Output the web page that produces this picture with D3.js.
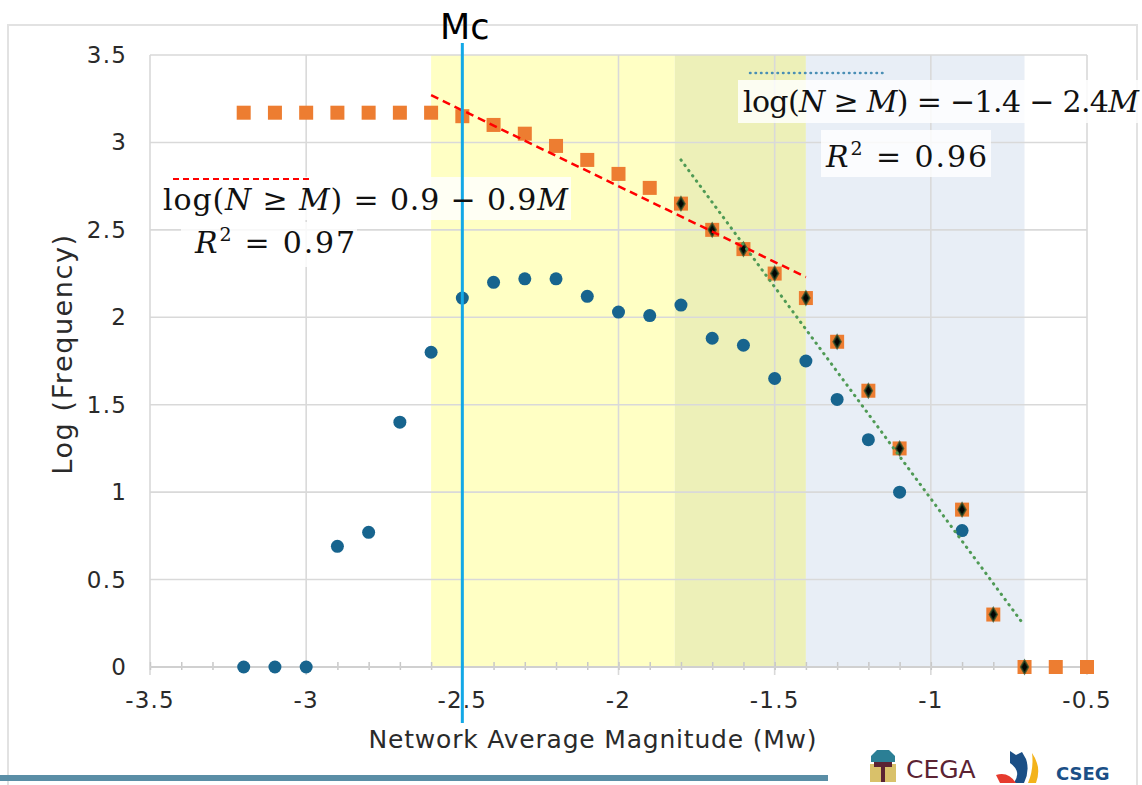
<!DOCTYPE html>
<html>
<head>
<meta charset="utf-8">
<script src="https://cdnjs.cloudflare.com/ajax/libs/d3/7.8.5/d3.min.js"></script>
<style>
  body { margin: 0; background: #fff; }
  svg { display: block; }
</style>
</head>
<body>
<div id="chart"></div>
<script>
// ---------------- data ----------------
const magnitudes = [-3.2, -3.1, -3.0, -2.9, -2.8, -2.7, -2.6, -2.5, -2.4, -2.3, -2.2, -2.1, -2.0, -1.9,
                    -1.8, -1.7, -1.6, -1.5, -1.4, -1.3, -1.2, -1.1, -1.0, -0.9, -0.8, -0.7, -0.6, -0.5];
// log of events per bin (blue dots)
const logFrequency = [0, 0, 0, 0.69, 0.77, 1.40, 1.80, 2.11, 2.20, 2.22, 2.22, 2.12, 2.03, 2.01,
                      2.07, 1.88, 1.84, 1.65, 1.75, 1.53, 1.30, 1.00, null, 0.78, null, null, null, null];
// log of cumulative count N >= M (orange squares)
const logCumulative = [3.17, 3.17, 3.17, 3.17, 3.17, 3.17, 3.17, 3.15, 3.10, 3.05, 2.98, 2.90, 2.82, 2.74,
                       2.65, 2.50, 2.39, 2.25, 2.11, 1.86, 1.58, 1.25, null, 0.90, 0.30, 0, 0, 0];
// squares used in the steep fit (black centre)
const fitPoints = [-1.8, -1.7, -1.6, -1.5, -1.4, -1.3, -1.2, -1.1, -0.9, -0.8, -0.7];

const redFitX = [-2.6, -1.4], redFitY = [3.27, 2.23];
const greenFitX = [-1.8, -0.71], greenFitY = [2.90, 0.26];

const bandFrom = [-2.6, -1.82, -1.4];
const bandTo = [-1.82, -1.4, -0.7];
const bandColor = ['#ffffc4', '#edf0b8', '#e8eef6'];

const mc = -2.5;
const xTicks = [-3.5, -3, -2.5, -2, -1.5, -1, -0.5];
const yTicks = [0, 0.5, 1, 1.5, 2, 2.5, 3, 3.5];

// ---------------- setup ----------------
const W = 1142, H = 785;
const svg = d3.select('#chart').append('svg')
    .attr('width', W).attr('height', H)
    .style('font-family', 'DejaVu Sans, sans-serif');

svg.append('rect').attr('width', W).attr('height', H).attr('fill', '#fff');

// outer chart frame
svg.append('rect')
    .attr('x', 8).attr('y', 25).attr('width', 1129).attr('height', 820)
    .attr('fill', 'none').attr('stroke', '#e2e2e2').attr('stroke-width', 2);

const x = d3.scaleLinear().domain([-3.5, -0.5]).range([150, 1087]);
const y = d3.scaleLinear().domain([0, 3.5]).range([667, 55]);

// bands
svg.append('g').selectAll('rect').data(bandFrom).join('rect')
    .attr('x', d => x(d))
    .attr('width', (d, i) => x(bandTo[i]) - x(d))
    .attr('y', y(3.5)).attr('height', y(0) - y(3.5))
    .attr('fill', (d, i) => bandColor[i]);

// grid
const grid = svg.append('g').attr('stroke', '#d9d9d9').attr('stroke-width', 1.6);
grid.selectAll('.h').data(yTicks).join('line')
    .attr('x1', x(-3.5)).attr('x2', x(-0.5))
    .attr('y1', d => y(d)).attr('y2', d => y(d));
grid.selectAll('.v').data(xTicks).join('line')
    .attr('x1', d => x(d)).attr('x2', d => x(d))
    .attr('y1', y(3.5)).attr('y2', y(0) + 8);

// x axis with minor ticks
const xAxis = d3.axisBottom(x).tickValues(d3.range(-3.5, -0.49, 0.1)).tickSize(8).tickFormat('');
const gx = svg.append('g').attr('transform', `translate(0,${y(0) - 5})`).call(xAxis);
gx.select('.domain').remove();
gx.selectAll('line').attr('stroke', '#c8c8c8').attr('stroke-width', 1.5);
svg.append('line').attr('x1', x(-3.5)).attr('x2', x(-0.5))
    .attr('y1', y(0)).attr('y2', y(0)).attr('stroke', '#d0d0d0').attr('stroke-width', 2);

// tick labels
svg.append('g').selectAll('text').data(xTicks).join('text')
    .attr('x', d => x(d)).attr('y', 708)
    .attr('text-anchor', 'middle')
    .attr('font-size', 23).attr('letter-spacing', 1.2).attr('fill', '#2a2a2a')
    .text(d => d3.format('')(d).replace('−', '-'));
svg.append('g').selectAll('text').data(yTicks).join('text')
    .attr('x', 127).attr('y', d => y(d) + 8)
    .attr('text-anchor', 'end')
    .attr('font-size', 23).attr('letter-spacing', 1.2).attr('fill', '#2a2a2a')
    .text(d => d);

// axis titles
svg.append('text')
    .attr('x', 593).attr('y', 748).attr('text-anchor', 'middle')
    .attr('font-size', 25).attr('letter-spacing', 0.8).attr('fill', '#2a2a2a')
    .text('Network Average Magnitude (Mw)');
svg.append('text')
    .attr('transform', 'translate(72,354) rotate(-90)').attr('text-anchor', 'middle')
    .attr('font-size', 27).attr('letter-spacing', 1.6).attr('fill', '#2a2a2a')
    .text('Log (Frequency)');

// ---------------- marks ----------------
const rows = magnitudes.map((m, i) => ({ m, f: logFrequency[i], c: logCumulative[i] }));

svg.append('g').selectAll('circle').data(rows.filter(d => d.f !== null)).join('circle')
    .attr('cx', d => x(d.m)).attr('cy', d => y(d.f)).attr('r', 6.5)
    .attr('fill', '#17648e');

const sq = 14;
svg.append('g').selectAll('rect').data(rows.filter(d => d.c !== null)).join('rect')
    .attr('x', d => x(d.m) - sq / 2).attr('y', d => y(d.c) - sq / 2)
    .attr('width', sq).attr('height', sq)
    .attr('fill', '#ed7d31');

const fitRows = rows.filter(d => d.c !== null && fitPoints.some(p => Math.abs(p - d.m) < 1e-6));
svg.append('g').selectAll('path').data(fitRows).join('path')
    .attr('transform', d => `translate(${x(d.m)},${y(d.c)})`)
    .attr('d', d3.symbol(d3.symbolDiamond, 48))
    .attr('fill', '#030503').attr('stroke', '#1f4a28').attr('stroke-width', 2).attr('stroke-opacity', 0.7);

// fit lines
const line = d3.line().x(d => x(d[0])).y(d => y(d[1]));
svg.append('path')
    .attr('d', line(redFitX.map((v, i) => [v, redFitY[i]])))
    .attr('fill', 'none').attr('stroke', '#ff0000').attr('stroke-width', 2.5)
    .attr('stroke-dasharray', '8,5');
svg.append('path')
    .attr('d', line(greenFitX.map((v, i) => [v, greenFitY[i]])))
    .attr('fill', 'none').attr('stroke', '#4f9a55').attr('stroke-width', 3)
    .attr('stroke-linecap', 'round').attr('stroke-dasharray', '0.5,6');

// ---------------- annotations ----------------
const boxes = [[161, 177, 410, 43], [181, 222, 176, 45], [738, 80, 404, 43], [821, 130, 170, 47]];
svg.append('g').selectAll('rect').data(boxes).join('rect')
    .attr('x', d => d[0]).attr('y', d => d[1]).attr('width', d => d[2]).attr('height', d => d[3])
    .attr('fill', '#fff').attr('opacity', 0.82);

// Mc line
svg.append('line')
    .attr('x1', x(mc)).attr('x2', x(mc)).attr('y1', 43).attr('y2', 723)
    .attr('stroke', '#13a8e6').attr('stroke-width', 3);
svg.append('text').attr('x', 440).attr('y', 39)
    .attr('font-size', 35).attr('fill', '#000').text('Mc');

// legend keys
svg.append('line').attr('x1', 173).attr('x2', 309).attr('y1', 179).attr('y2', 179)
    .attr('stroke', '#ff0000').attr('stroke-width', 2).attr('stroke-dasharray', '6,4');
svg.append('line').attr('x1', 750).attr('x2', 887).attr('y1', 73).attr('y2', 73)
    .attr('stroke', '#4a8fb5').attr('stroke-width', 2.5).attr('stroke-linecap', 'round')
    .attr('stroke-dasharray', '0.5,5');

function equation(xp, yp, width, parts) {
    const t = svg.append('text').attr('x', xp).attr('y', yp)
        .attr('font-family', 'DejaVu Serif, serif').attr('font-size', 30).attr('fill', '#111');
    if (width) t.attr('textLength', width).attr('lengthAdjust', 'spacing');
    parts.forEach(p => {
        const s = t.append('tspan').text(p[0]);
        if (p[1] === 'i') s.attr('font-style', 'italic');
        if (p[1] === 'sup') s.attr('font-size', 19).attr('baseline-shift', '65%');
    });
}
equation(163, 210, 405, [['log('], ['N', 'i'], [' \u2265 '], ['M', 'i'], [') = 0.9 \u2212 0.9'], ['M', 'i']]);
equation(195, 253, 160, [['R', 'i'], ['2', 'sup'], [' = 0.97']]);
equation(743, 112, 396, [['log('], ['N', 'i'], [' \u2265 '], ['M', 'i'], [') = \u22121.4 \u2212 2.4'], ['M', 'i']]);
equation(826, 167, 161, [['R', 'i'], ['2', 'sup'], [' = 0.96']]);

// ---------------- footer ----------------
svg.append('rect').attr('x', 0).attr('y', 775).attr('width', 828).attr('height', 6).attr('fill', '#5a8ea6');

// CEGA emblem
const cega = svg.append('g').attr('transform', 'translate(868,750)');
cega.append('path').attr('d', 'M3,6 L9,0 L21,0 L27,6 L27,12 L3,12 Z').attr('fill', '#2b7f95');
cega.append('path').attr('d', 'M2,14 L28,14 L28,32 L2,32 Z').attr('fill', '#d9c16a');
cega.append('path').attr('d', 'M6,12 L24,12 L24,17 L17,17 L17,32 L13,32 L13,17 L6,17 Z').attr('fill', '#5b2333');
svg.append('text').attr('x', 906).attr('y', 778)
    .attr('font-size', 25).attr('fill', '#5b2333').text('CEGA');

// CSEG leaf
const cseg = svg.append('g').attr('transform', 'translate(996,749)');
cseg.append('path').attr('d', 'M14,2 L20,6 L26,3 L30,10 Q34,22 28,34 L18,34 Q26,22 14,14 Z').attr('fill', '#1b4f86');
cseg.append('path').attr('d', 'M0,26 Q12,22 20,34 L4,34 Z').attr('fill', '#e63b2e');
cseg.append('path').attr('d', 'M36,4 Q46,18 40,34 L32,34 Q38,20 36,4 Z').attr('fill', '#f3b31b');
svg.append('text').attr('x', 1056).attr('y', 780)
    .attr('font-size', 18).attr('font-weight', 'bold').attr('fill', '#1b4f86').text('CSEG');
</script>
</body>
</html>
